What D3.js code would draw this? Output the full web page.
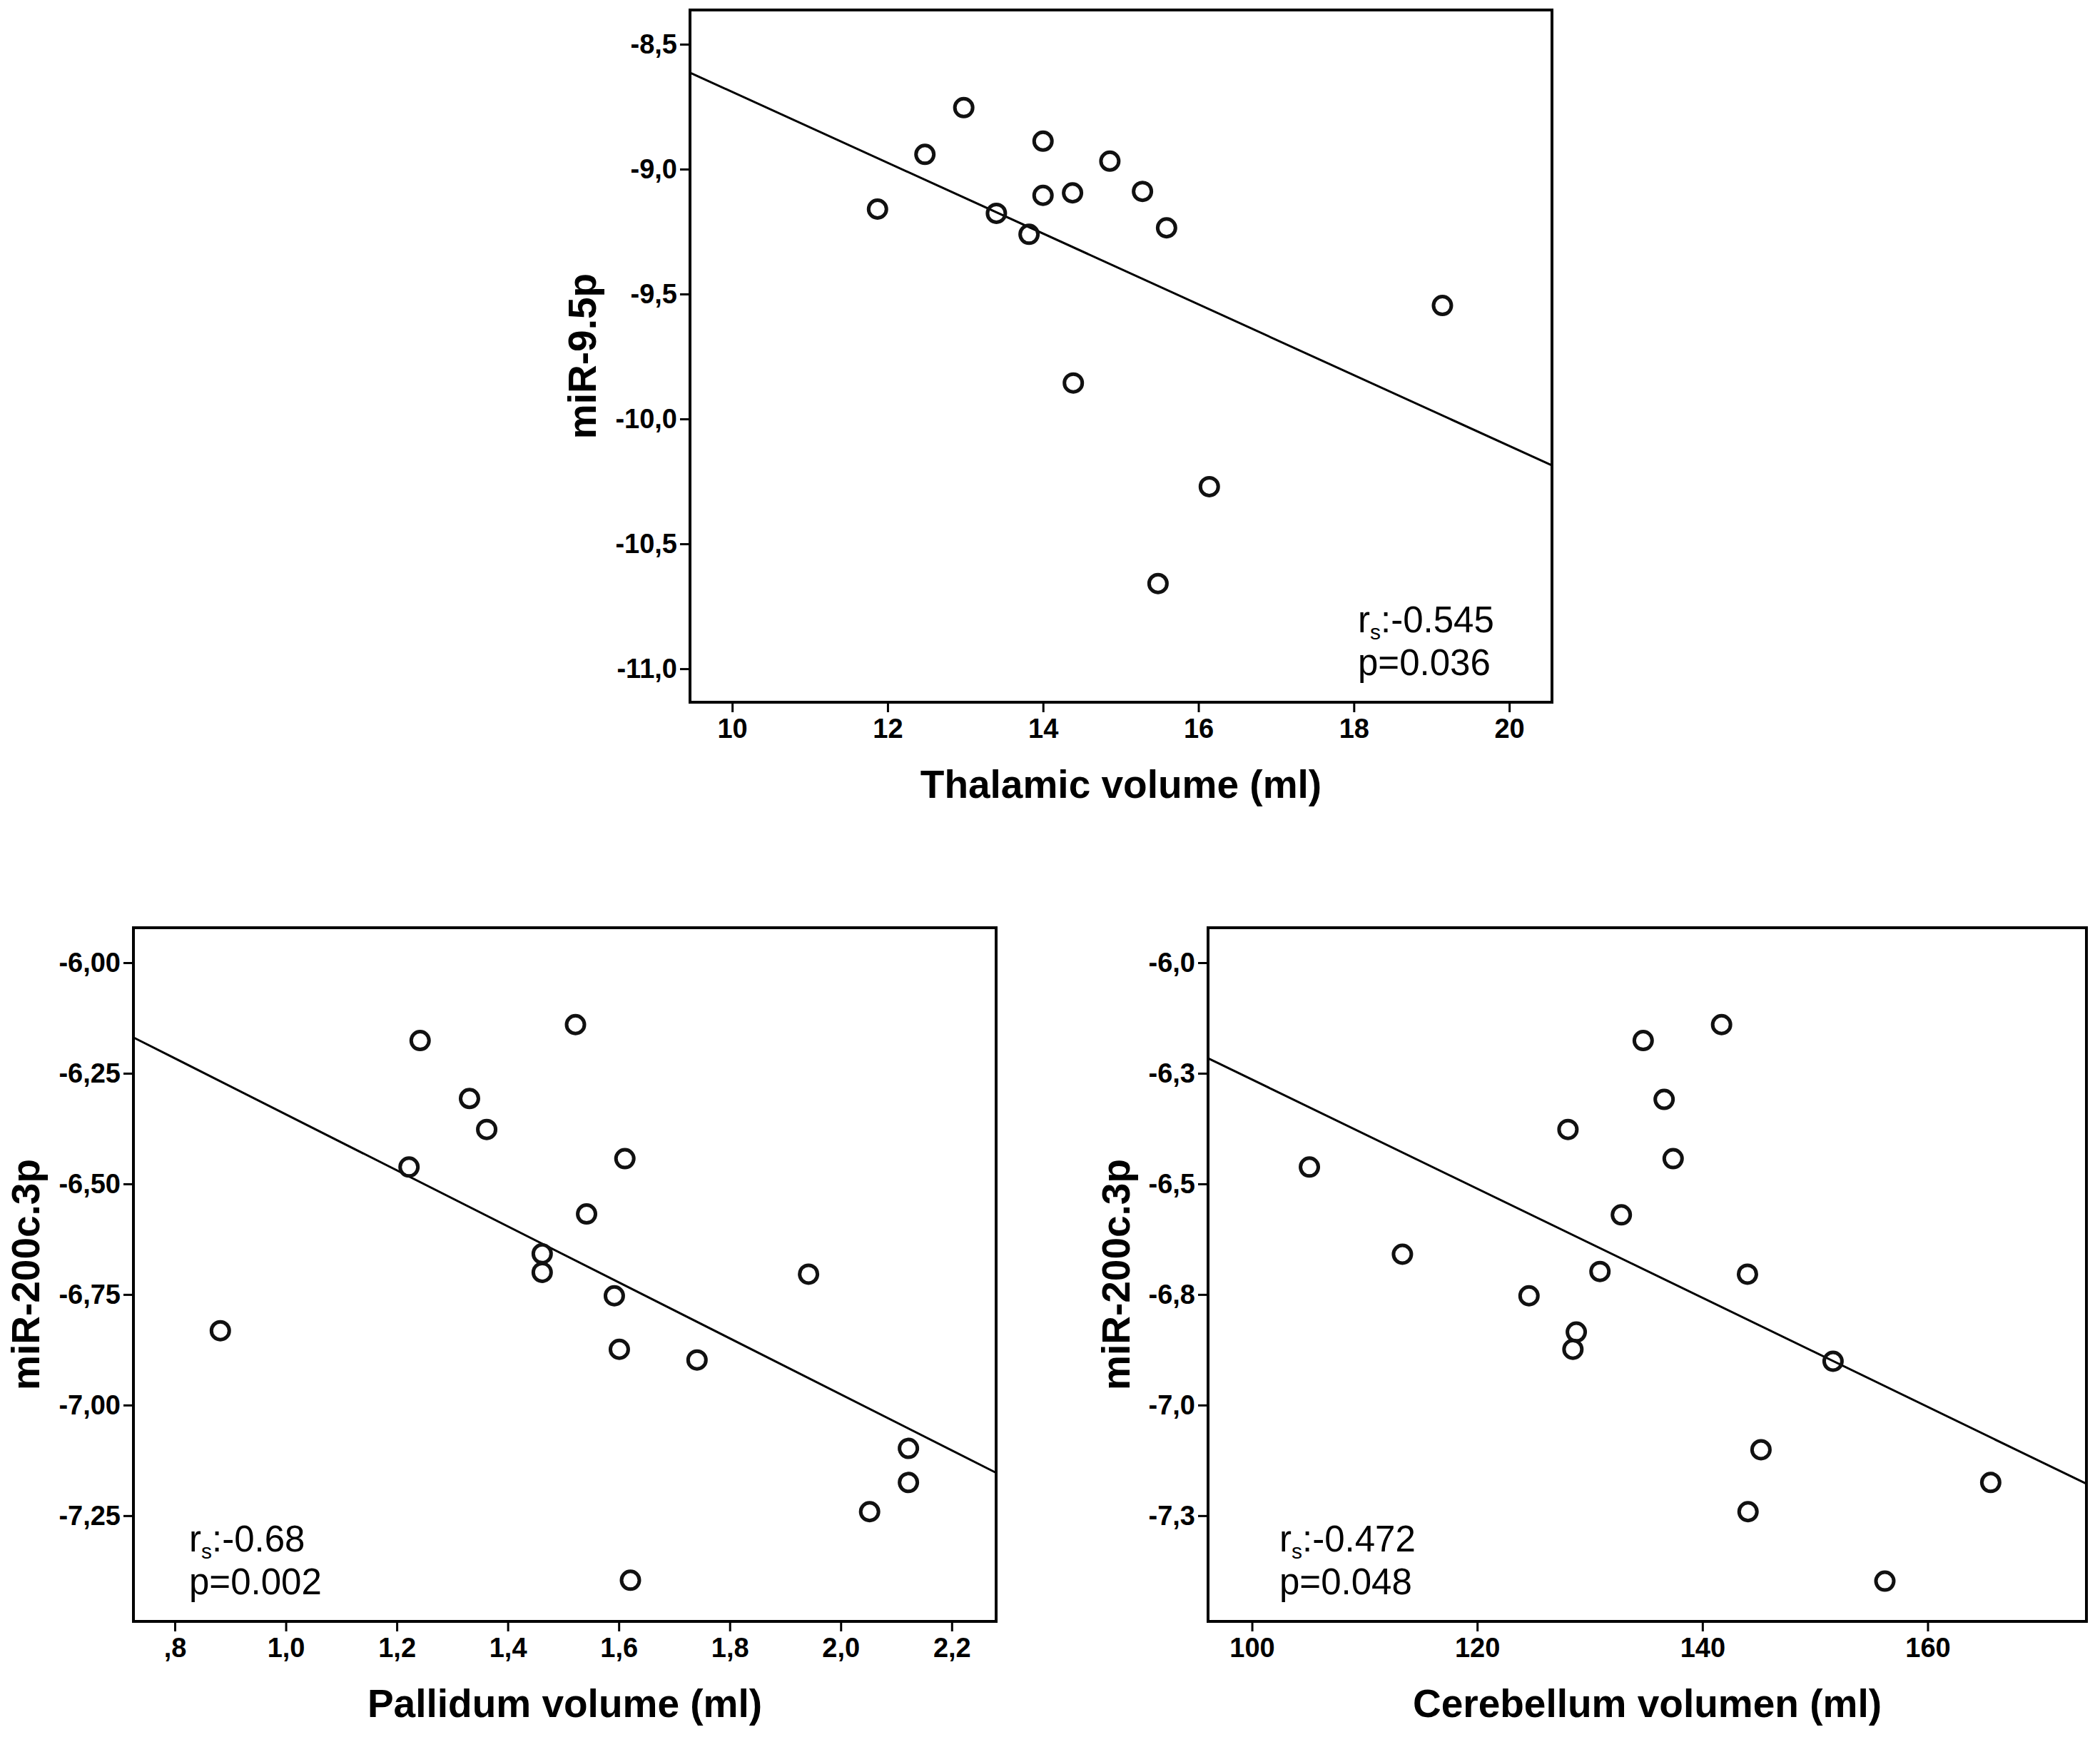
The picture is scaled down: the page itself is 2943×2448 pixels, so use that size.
<!DOCTYPE html>
<html lang="es">
<head>
<meta charset="UTF-8">
<title>miR scatter plots</title>
<script src="https://d3js.org/d3.v7.min.js"></script>
<style>
  body { margin: 0; background: #fff; }
  text { font-family: "Liberation Sans", Arial, sans-serif; fill: #000; }
</style>
</head>
<body>
<script>
// ---- datos ----

// Panel 1: talamo vs miR-9.5p
var thalX = [11.87, 12.48, 12.98, 13.40, 13.82, 14.00, 14.00, 14.38, 14.86, 15.28, 15.59, 14.39, 16.14, 15.48, 19.14];
var thalY = [-9.16, -8.941, -8.754, -9.177, -9.261, -8.888, -9.105, -9.095, -8.968, -9.089, -9.235, -9.856, -10.271, -10.659, -9.546];
var thalFitX = [9.457, 20.55];
var thalFitY = [-8.614, -10.186];
var thalXTicks = [10, 12, 14, 16, 18, 20];
var thalXLabels = ["10", "12", "14", "16", "18", "20"];
var thalYTicks = [-8.5, -9, -9.5, -10, -10.5, -11];
var thalYLabels = ["-8,5", "-9,0", "-9,5", "-10,0", "-10,5", "-11,0"];

// Panel 2: palido vs miR-200c.3p
var pallX = [0.882, 1.222, 1.242, 1.331, 1.362, 1.522, 1.611, 1.542, 1.462, 1.462, 1.592, 1.601, 1.741, 1.942, 2.122, 2.122, 2.052, 1.621];
var pallY = [-6.832, -6.462, -6.176, -6.307, -6.377, -6.140, -6.443, -6.568, -6.658, -6.700, -6.753, -6.874, -6.898, -6.704, -7.098, -7.175, -7.241, -7.396];
var pallFitX = [0.7254, 2.28];
var pallFitY = [-6.169, -7.153];
var pallXTicks = [0.8, 1.0, 1.2, 1.4, 1.6, 1.8, 2.0, 2.2];
var pallXLabels = [",8", "1,0", "1,2", "1,4", "1,6", "1,8", "2,0", "2,2"];
var pallYTicks = [-6, -6.25, -6.5, -6.75, -7, -7.25];
var pallYLabels = ["-6,00", "-6,25", "-6,50", "-6,75", "-7,00", "-7,25"];

// Panel 3: cerebelo vs miR-200c.3p
var cereX = [105.1, 113.36, 124.6, 128.06, 128.8, 128.5, 130.9, 132.8, 134.74, 136.6, 137.4, 141.7, 144.0, 151.6, 145.2, 144.05, 165.6, 156.2];
var cereY = [-6.462, -6.659, -6.753, -6.377, -6.835, -6.874, -6.698, -6.570, -6.176, -6.309, -6.443, -6.140, -6.704, -6.901, -7.101, -7.241, -7.175, -7.398];
var cereFitX = [96.1, 174.1];
var cereFitY = [-6.216, -7.178];
var cereXTicks = [100, 120, 140, 160];
var cereXLabels = ["100", "120", "140", "160"];
var cereYTicks = [-6, -6.25, -6.5, -6.75, -7, -7.25];
var cereYLabels = ["-6,0", "-6,3", "-6,5", "-6,8", "-7,0", "-7,3"];

// ---- paneles (posicion en px) ----
var paneles = [
  { xs: thalX, ys: thalY, fx: thalFitX, fy: thalFitY,
    xt: thalXTicks, xl: thalXLabels, yt: thalYTicks, yl: thalYLabels,
    xdom: [9.457, 20.55], ydom: [-11.134, -8.363],
    caja: [967, 14, 2175, 984], ylabOff: 152, txtX: 1903,
    xtitulo: "Thalamic volume (ml)", ytitulo: "miR-9.5p", r: "-0.545", p: "0.036" },
  { xs: pallX, ys: pallY, fx: pallFitX, fy: pallFitY,
    xt: pallXTicks, xl: pallXLabels, yt: pallYTicks, yl: pallYLabels,
    xdom: [0.7254, 2.28], ydom: [-7.489, -5.921],
    caja: [187, 1300, 1396, 2272], ylabOff: 152, txtX: 265,
    xtitulo: "Pallidum volume (ml)", ytitulo: "miR-200c.3p", r: "-0.68", p: "0.002" },
  { xs: cereX, ys: cereY, fx: cereFitX, fy: cereFitY,
    xt: cereXTicks, xl: cereXLabels, yt: cereYTicks, yl: cereYLabels,
    xdom: [96.1, 174.1], ydom: [-7.489, -5.921],
    caja: [1693, 1300, 2924, 2272], ylabOff: 130, txtX: 1793,
    xtitulo: "Cerebellum volumen (ml)", ytitulo: "miR-200c.3p", r: "-0.472", p: "0.048" }
];

var svg = d3.select("body").append("svg")
    .attr("width", 2943)
    .attr("height", 2448);

paneles.forEach(function (pn) {
  var x0 = pn.caja[0], y0 = pn.caja[1], x1 = pn.caja[2], y1 = pn.caja[3];

  var escalaX = d3.scaleLinear().domain(pn.xdom).range([x0, x1]);
  var escalaY = d3.scaleLinear().domain(pn.ydom).range([y1, y0]);

  // ejes
  var ejeX = svg.append("g")
      .attr("transform", "translate(0," + y1 + ")")
      .call(d3.axisBottom(escalaX)
        .tickValues(pn.xt)
        .tickFormat(function (d, i) { return pn.xl[i]; })
        .tickSize(14).tickPadding(9));
  var ejeY = svg.append("g")
      .attr("transform", "translate(" + x0 + ",0)")
      .call(d3.axisLeft(escalaY)
        .tickValues(pn.yt)
        .tickFormat(function (d, i) { return pn.yl[i]; })
        .tickSize(14).tickPadding(4));

  [ejeX, ejeY].forEach(function (g) {
    g.select(".domain").remove();
    g.selectAll(".tick line").attr("stroke", "#000").attr("stroke-width", 3);
    g.selectAll(".tick text")
      .attr("font-family", "Liberation Sans, Arial, sans-serif")
      .attr("font-size", 38)
      .attr("font-weight", "bold")
      .attr("fill", "#000");
  });

  // caja
  svg.append("rect")
      .attr("x", x0).attr("y", y0)
      .attr("width", x1 - x0).attr("height", y1 - y0)
      .attr("fill", "none")
      .attr("stroke", "#000")
      .attr("stroke-width", 4);

  // recta de ajuste
  svg.append("line")
      .attr("x1", escalaX(pn.fx[0])).attr("y1", escalaY(pn.fy[0]))
      .attr("x2", escalaX(pn.fx[1])).attr("y2", escalaY(pn.fy[1]))
      .attr("stroke", "#000")
      .attr("stroke-width", 3);

  // puntos
  svg.append("g").selectAll("circle")
      .data(d3.range(pn.xs.length))
      .enter()
      .append("circle")
      .attr("cx", function (i) { return escalaX(pn.xs[i]); })
      .attr("cy", function (i) { return escalaY(pn.ys[i]); })
      .attr("r", 12.5)
      .attr("fill", "none")
      .attr("stroke", "#111")
      .attr("stroke-width", 5);

  // titulos de ejes
  svg.append("text")
      .attr("x", (x0 + x1) / 2)
      .attr("y", y1 + 134)
      .attr("text-anchor", "middle")
      .attr("font-size", 55)
      .attr("font-weight", "bold")
      .text(pn.xtitulo);

  svg.append("text")
      .attr("transform", "translate(" + (x0 - pn.ylabOff) + "," + ((y0 + y1) / 2) + ") rotate(-90)")
      .attr("text-anchor", "middle")
      .attr("dy", "0.36em")
      .attr("font-size", 55)
      .attr("font-weight", "bold")
      .text(pn.ytitulo);

  // estadisticos
  var t1 = svg.append("text")
      .attr("x", pn.txtX)
      .attr("y", y1 - 98)
      .attr("font-size", 51);
  t1.append("tspan").text("r");
  t1.append("tspan").attr("font-size", 30).attr("dy", 10).text("s");
  t1.append("tspan").attr("dy", -10).text(":" + pn.r);

  svg.append("text")
      .attr("x", pn.txtX)
      .attr("y", y1 - 38)
      .attr("font-size", 51)
      .text("p=" + pn.p);
});
</script>
</body>
</html>
